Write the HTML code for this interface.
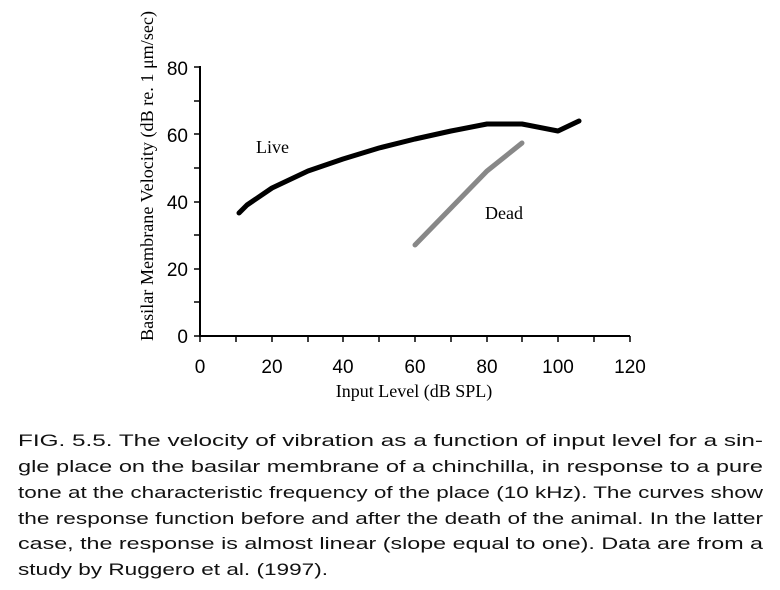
<!DOCTYPE html>
<html><head><style>body{margin:0;background:#fff}</style></head><body>
<svg width="780" height="590" xmlns="http://www.w3.org/2000/svg" style="display:block">
<g stroke="#000" stroke-width="2" fill="none">
<line x1="200" y1="66" x2="200" y2="337"/>
<line x1="199" y1="336" x2="630" y2="336"/>
<g stroke-width="1.5">
<line x1="194" y1="67" x2="200" y2="67"/><line x1="194" y1="101" x2="200" y2="101"/><line x1="194" y1="134" x2="200" y2="134"/><line x1="194" y1="168" x2="200" y2="168"/><line x1="194" y1="202" x2="200" y2="202"/><line x1="194" y1="235" x2="200" y2="235"/><line x1="194" y1="269" x2="200" y2="269"/><line x1="194" y1="302" x2="200" y2="302"/><line x1="194" y1="336" x2="200" y2="336"/>
<line x1="200" y1="336" x2="200" y2="342"/><line x1="236" y1="336" x2="236" y2="342"/><line x1="272" y1="336" x2="272" y2="342"/><line x1="308" y1="336" x2="308" y2="342"/><line x1="343" y1="336" x2="343" y2="342"/><line x1="379" y1="336" x2="379" y2="342"/><line x1="415" y1="336" x2="415" y2="342"/><line x1="451" y1="336" x2="451" y2="342"/><line x1="487" y1="336" x2="487" y2="342"/><line x1="522" y1="336" x2="522" y2="342"/><line x1="558" y1="336" x2="558" y2="342"/><line x1="594" y1="336" x2="594" y2="342"/><line x1="630" y1="336" x2="630" y2="342"/>
</g>
<polyline stroke-width="5" stroke-linejoin="round" stroke-linecap="round" points="239,213 247,205 272,188 308,171 343,159 379,148 415,139 451,131 487,124 522,124 558,131 579,121"/>
<polyline stroke="#888" stroke-width="5" stroke-linecap="round" points="415,245 487,171 522,143"/>
</g>
<g font-family="Liberation Sans, sans-serif" font-size="19" text-anchor="end">
<text x="188" y="343">0</text>
<text x="188" y="276">20</text>
<text x="188" y="209">40</text>
<text x="188" y="142">60</text>
<text x="188" y="75">80</text>
</g>
<g font-family="Liberation Sans, sans-serif" font-size="19" text-anchor="middle">
<text x="200" y="373">0</text><text x="272" y="373">20</text><text x="343" y="373">40</text><text x="415" y="373">60</text><text x="487" y="373">80</text><text x="558" y="373">100</text><text x="630" y="373">120</text>
</g>
<g font-family="Liberation Serif, serif" font-size="18">
<text x="414" y="397" text-anchor="middle">Input Level (dB SPL)</text>
<text x="256" y="153">Live</text>
<text x="485" y="219">Dead</text>
<text transform="translate(153,176) rotate(-90)" text-anchor="middle" textLength="330" lengthAdjust="spacingAndGlyphs">Basilar Membrane Velocity (dB re. 1 μm/sec)</text>
</g>
<g font-family="Liberation Sans, sans-serif" font-size="16.5" fill="#111">
<text x="18" y="446" textLength="745" lengthAdjust="spacingAndGlyphs">FIG. 5.5. The velocity of vibration as a function of input level for a sin-</text>
<text x="18" y="472" textLength="745" lengthAdjust="spacingAndGlyphs">gle place on the basilar membrane of a chinchilla, in response to a pure</text>
<text x="18" y="498" textLength="745" lengthAdjust="spacingAndGlyphs">tone at the characteristic frequency of the place (10 kHz). The curves show</text>
<text x="18" y="524" textLength="745" lengthAdjust="spacingAndGlyphs">the response function before and after the death of the animal. In the latter</text>
<text x="18" y="549" textLength="745" lengthAdjust="spacingAndGlyphs">case, the response is almost linear (slope equal to one). Data are from a</text>
<text x="18" y="575" textLength="310" lengthAdjust="spacingAndGlyphs">study by Ruggero et al. (1997).</text>
</g>
</svg>
</body></html>
